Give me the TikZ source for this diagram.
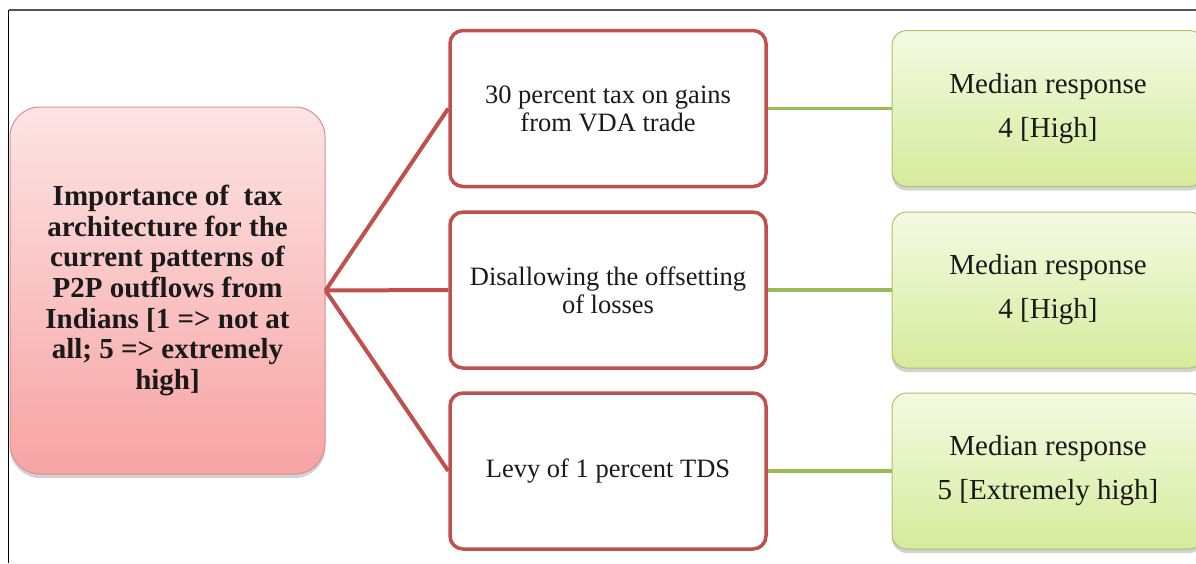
\documentclass[tikz,border=0pt]{standalone}
\usepackage{fontspec}
\setmainfont{Liberation Serif}
\usetikzlibrary{shadows}
\definecolor{redline}{HTML}{C0504D}
\definecolor{greenline}{HTML}{9BBB59}
\definecolor{pinktop}{HTML}{FDE4E4}
\definecolor{pinkbot}{HTML}{F7A3A3}
\definecolor{pinkedge}{HTML}{D88E8C}
\definecolor{greentop}{HTML}{F4FAE2}
\definecolor{greenbot}{HTML}{D6EB9C}
\definecolor{greenedge}{HTML}{A8C36A}
\definecolor{frameline}{HTML}{555555}
\definecolor{txt}{HTML}{1A1A1A}
\tikzset{
  mainbox/.style={rectangle, rounded corners=30pt, draw=pinkedge, line width=1pt,
    top color=pinktop, bottom color=pinkbot, minimum width=315pt, minimum height=367pt,
    align=center, text=txt, inner sep=0pt,
    drop shadow={shadow xshift=0pt, shadow yshift=-4pt, opacity=0.35},
    font=\bfseries\fontsize{29}{30.7}\selectfont},
  factorbox/.style={rectangle, rounded corners=13pt, draw=redline, line width=3.5pt,
    fill=white, minimum width=316pt, minimum height=156pt, align=center, text=txt,
    inner sep=0pt, font=\fontsize{26.5}{28}\selectfont},
  resultbox/.style={rectangle, rounded corners=15pt, draw=greenedge, line width=1pt,
    top color=greentop, bottom color=greenbot, minimum width=312pt, minimum height=156pt,
    align=center, text=txt, inner sep=0pt,
    drop shadow={shadow xshift=0pt, shadow yshift=-4pt, opacity=0.35},
    font=\fontsize{29}{44}\selectfont},
  redlink/.style={draw=redline, line width=4pt},
  greenlink/.style={draw=greenline, line width=3.5pt}
}
\begin{document}
\begin{tikzpicture}[x=1pt, y=-1pt]
\useasboundingbox (0,0) rectangle (1196,563);
\fill[white] (0,0) rectangle (1196,563);
% frame lines
\coordinate (ftl) at (8.5,10);
\coordinate (ftr) at (1196,10);
\coordinate (fbl) at (8.5,563);
\draw[frameline, line width=2pt] (ftl) -- (ftr);
\draw[black, line width=1.3pt] (ftl) -- (fbl);
% nodes
\node[mainbox] (main) at (167.5,290.5) {Importance of \ tax\\architecture for the\\current patterns of\\P2P outflows from\\Indians [1 => not at\\all; 5 => extremely\\high]};
\node[factorbox] (f1) at (608,108.5) {30 percent tax on gains\\from VDA trade};
\node[factorbox] (f2) at (608,290) {Disallowing the offsetting\\of losses};
\node[factorbox] (f3) at (608,471) {Levy of 1 percent TDS};
\node[resultbox] (r1) at (1048,108.5) {Median response\\4 [High]};
\node[resultbox] (r2) at (1048,290) {Median response\\4 [High]};
\node[resultbox] (r3) at (1048,471) {Median response\\5 [Extremely high]};
% connectors
\draw[redlink] (main.east) -- (f1.west);
\draw[redlink] (main.east) -- (f2.west);
\draw[redlink] (main.east) -- (f3.west);
\draw[greenlink] (f1.east) -- (r1.west);
\draw[greenlink] (f2.east) -- (r2.west);
\draw[greenlink] (f3.east) -- (r3.west);
\end{tikzpicture}
\end{document}
